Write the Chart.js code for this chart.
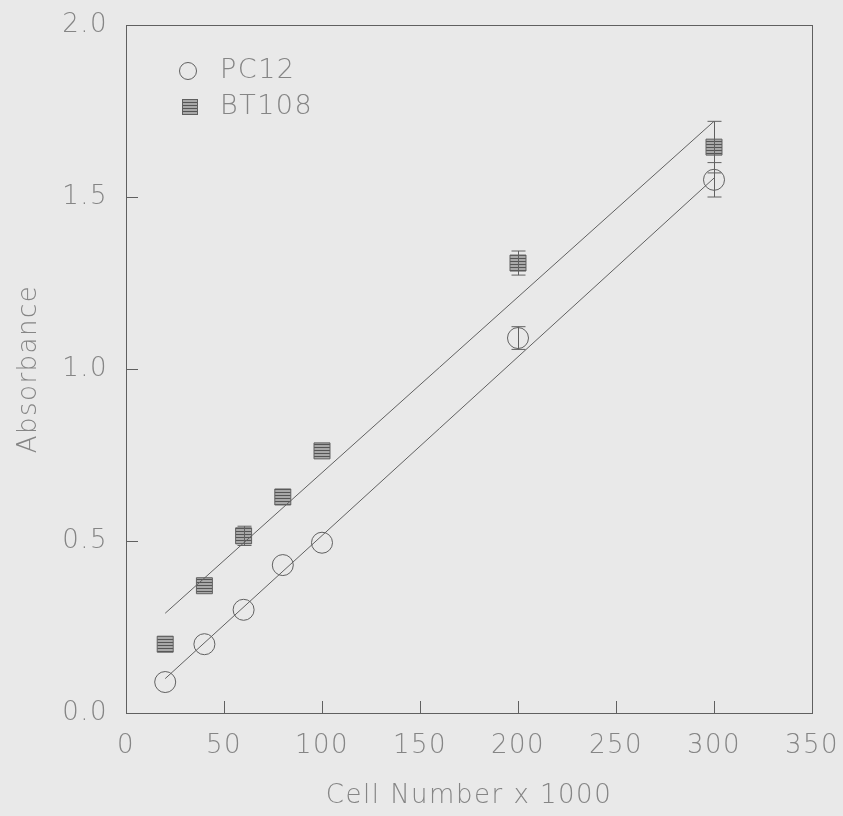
<!DOCTYPE html>
<html>
<head>
<meta charset="utf-8">
<script src="https://cdn.jsdelivr.net/npm/chart.js@4.4.0/dist/chart.umd.min.js"></script>
<style>
  html, body { margin: 0; padding: 0; background: #e9e9e9; }
  #wrap { width: 843px; height: 816px; }
</style>
</head>
<body>
<div id="wrap"><canvas id="chart" width="843" height="816"></canvas></div>
<script>
// values
const cellNumbers = [20, 40, 60, 80, 100, 200, 300];
const pc12Values = [0.09, 0.20, 0.30, 0.43, 0.495, 1.09, 1.55];
const pc12Errors = [0, 0, 0, 0, 0, 0.033, 0.05];
const bt108Values = [0.20, 0.37, 0.515, 0.628, 0.762, 1.308, 1.645];
const bt108Errors = [0, 0, 0.028, 0, 0, 0.035, 0.075];
const fitX = [20, 300];
const pc12Fit = [0.10, 1.555];
const bt108Fit = [0.29, 1.72];
const xTicks = [0, 50, 100, 150, 200, 250, 300, 350];
const yTicks = [0.0, 0.5, 1.0, 1.5, 2.0];

const textColor = '#858585';
const lineColor = '#606060';
const fontFamily = '"DejaVu Sans", sans-serif';

// hatched fill for the BT108 squares
function makeStripes() {
  const c = document.createElement('canvas');
  c.width = 4; c.height = 3;
  const g = c.getContext('2d');
  g.fillStyle = '#a8a8a8';
  g.fillRect(0, 0, 4, 3);
  g.fillStyle = '#555';
  g.fillRect(0, 0, 4, 1);
  return g.createPattern(c, 'repeat');
}
const stripes = makeStripes();

const toPoints = (xs, ys) => xs.map((x, i) => ({ x: x, y: ys[i] }));

const spacing = {
  id: 'spacing',
  beforeDraw(chart) { chart.ctx.letterSpacing = '1.5px'; }
};

const errorBars = {
  id: 'errorBars',
  afterDatasetsDraw(chart) {
    const ctx = chart.ctx;
    const xs = chart.scales.x, ys = chart.scales.y;
    const sets = [[pc12Values, pc12Errors], [bt108Values, bt108Errors]];
    ctx.save();
    ctx.strokeStyle = lineColor;
    ctx.lineWidth = 1;
    sets.forEach(([vals, errs]) => {
      cellNumbers.forEach((x, i) => {
        if (!errs[i]) return;
        const px = Math.round(xs.getPixelForValue(x)) + 0.5;
        const top = ys.getPixelForValue(vals[i] + errs[i]);
        const bot = ys.getPixelForValue(vals[i] - errs[i]);
        ctx.beginPath();
        ctx.moveTo(px, top); ctx.lineTo(px, bot);
        ctx.moveTo(px - 7, top); ctx.lineTo(px + 7, top);
        ctx.moveTo(px - 7, bot); ctx.lineTo(px + 7, bot);
        ctx.stroke();
      });
    });
    ctx.restore();
  }
};

const frame = {
  id: 'frame',
  afterDraw(chart) {
    const ctx = chart.ctx;
    const a = chart.chartArea;
    const xs = chart.scales.x, ys = chart.scales.y;
    ctx.save();
    ctx.strokeStyle = lineColor;
    ctx.lineWidth = 1;
    ctx.strokeRect(Math.round(a.left) + 0.5, Math.round(a.top) + 0.5,
      Math.round(a.right - a.left), Math.round(a.bottom - a.top));
    ctx.beginPath();
    xTicks.slice(1, -1).forEach(v => {
      const px = Math.round(xs.getPixelForValue(v)) + 0.5;
      ctx.moveTo(px, a.bottom); ctx.lineTo(px, a.bottom - 12);
    });
    yTicks.slice(1, -1).forEach(v => {
      const py = Math.round(ys.getPixelForValue(v)) + 0.5;
      ctx.moveTo(a.left, py); ctx.lineTo(a.left + 12, py);
    });
    ctx.stroke();

    // legend
    ctx.font = '200 27px ' + fontFamily;
    ctx.fillStyle = textColor;
    ctx.textBaseline = 'middle';
    ctx.beginPath();
    ctx.arc(188, 71, 8.5, 0, Math.PI * 2);
    ctx.stroke();
    ctx.fillText('PC12', 220, 71);
    ctx.fillStyle = stripes;
    ctx.fillRect(182, 99, 15, 15);
    ctx.strokeRect(182.5, 99.5, 15, 15);
    ctx.fillStyle = textColor;
    ctx.fillText('BT108', 220, 107);
    ctx.restore();
  }
};

new Chart(document.getElementById('chart'), {
  type: 'scatter',
  data: {
    datasets: [
      {
        type: 'line', label: 'PC12 fit', data: toPoints(fitX, pc12Fit),
        borderColor: lineColor, borderWidth: 1, pointRadius: 0, fill: false
      },
      {
        type: 'line', label: 'BT108 fit', data: toPoints(fitX, bt108Fit),
        borderColor: lineColor, borderWidth: 1, pointRadius: 0, fill: false
      },
      {
        label: 'PC12', data: toPoints(cellNumbers, pc12Values),
        pointStyle: 'circle', pointRadius: 10.5, pointBorderWidth: 1,
        pointBorderColor: lineColor, pointBackgroundColor: 'rgba(0,0,0,0)'
      },
      {
        label: 'BT108', data: toPoints(cellNumbers, bt108Values),
        pointStyle: 'rect', pointRadius: 11.3, pointBorderWidth: 1,
        pointBorderColor: lineColor, pointBackgroundColor: stripes
      }
    ]
  },
  options: {
    responsive: false,
    animation: false,
    layout: { padding: { top: 25, right: 31, left: 0, bottom: 0 } },
    plugins: { legend: { display: false }, tooltip: { enabled: false } },
    scales: {
      x: {
        type: 'linear', min: 0, max: 350,
        afterBuildTicks: s => { s.ticks = xTicks.map(v => ({ value: v })); },
        afterFit: s => { s.height = 103; s.paddingLeft = 0; s.paddingRight = 0; },
        grid: { display: false },
        border: { display: false },
        ticks: { color: textColor, padding: 10, font: { family: fontFamily, size: 26, weight: '200' } },
        title: {
          display: true, text: 'Cell Number x 1000', color: textColor,
          font: { family: fontFamily, size: 26, weight: '200' }, padding: { top: 22 }
        }
      },
      y: {
        type: 'linear', min: 0, max: 2,
        afterBuildTicks: s => { s.ticks = yTicks.map(v => ({ value: v })); },
        afterFit: s => { s.width = 126; s.paddingTop = 0; s.paddingBottom = 0; },
        grid: { display: false },
        border: { display: false },
        ticks: {
          color: textColor, padding: 10, font: { family: fontFamily, size: 26, weight: '200' },
          callback: v => v.toFixed(1)
        },
        title: {
          display: true, text: 'Absorbance', color: textColor,
          font: { family: fontFamily, size: 26, weight: '200' }, padding: { top: 14, bottom: 0 }
        }
      }
    }
  },
  plugins: [spacing, errorBars, frame]
});
</script>
</body>
</html>
